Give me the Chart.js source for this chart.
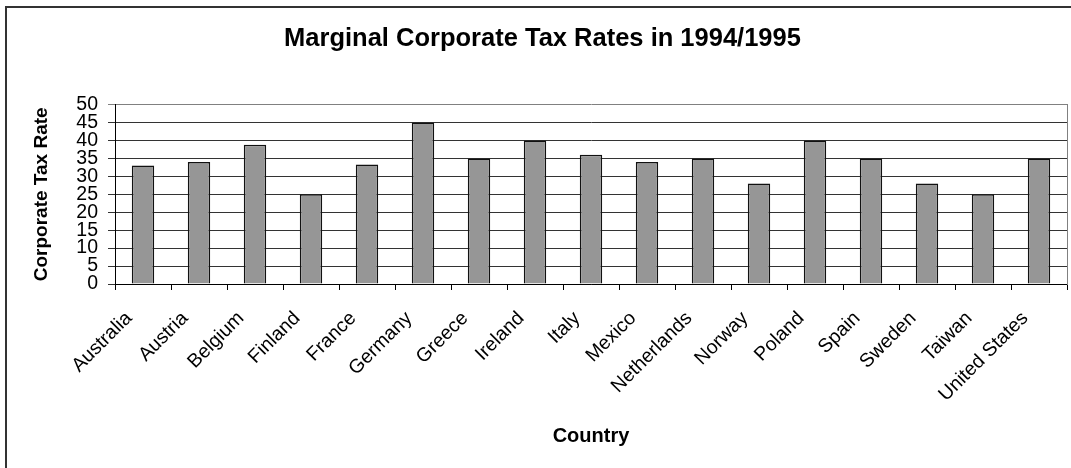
<!DOCTYPE html>
<html>
<head>
<meta charset="utf-8">
<title>Marginal Corporate Tax Rates in 1994/1995</title>
<script src="https://cdn.jsdelivr.net/npm/chart.js@4/dist/chart.umd.min.js"></script>
<style>
    html, body { margin: 0; padding: 0; background: #fff; overflow: hidden; }
    #chart { position: absolute; left: 0; top: 0; }
    #frame {
        position: absolute; left: 5px; top: 6px; width: 2000px; height: 2000px;
        border-left: 2px solid #333; border-top: 2px solid #333; pointer-events: none;
    }
</style>
</head>
<body>
<canvas id="chart" width="1085" height="468"></canvas>
<div id="frame"></div>
<script>
// Data
const countries = ['Australia', 'Austria', 'Belgium', 'Finland', 'France', 'Germany', 'Greece', 'Ireland',
    'Italy', 'Mexico', 'Netherlands', 'Norway', 'Poland', 'Spain', 'Sweden', 'Taiwan', 'United States'];
const taxRates = [33, 34, 38.8, 25, 33.3, 45, 35, 40, 36, 34, 35, 28, 40, 35, 28, 25, 35];
const yTicks = [0, 5, 10, 15, 20, 25, 30, 35, 40, 45, 50];

const FONT = '"Liberation Sans", Arial, sans-serif';
Chart.defaults.color = '#000';
Chart.defaults.font.family = FONT;

new Chart(document.getElementById('chart'), {
    type: 'bar',
    data: {
        labels: countries,
        datasets: [{
            label: 'Corporate Tax Rate',
            data: taxRates,
            backgroundColor: '#969696',
            borderColor: '#111',
            borderWidth: 1.5,
            categoryPercentage: 1,
            barPercentage: 0.4
        }]
    },
    options: {
        responsive: false,
        animation: false,
        layout: { padding: 0 },
        plugins: {
            legend: { display: false },
            tooltip: { enabled: false },
            title: {
                display: true,
                text: 'Marginal Corporate Tax Rates in 1994/1995',
                font: { size: 25.5, weight: 'bold', family: FONT },
                color: '#000',
                padding: { top: 24, bottom: 50 }
            }
        },
        scales: {
            x: {
                offset: true,
                grid: { offset: true, drawOnChartArea: false, drawTicks: true, tickLength: 6, color: '#000' },
                border: { color: '#000', width: 1 },
                ticks: {
                    autoSkip: false, minRotation: 45, maxRotation: 45,
                    padding: 17, labelOffset: -14,
                    font: { size: 19.5, family: FONT }
                },
                title: {
                    display: true, text: 'Country',
                    font: { size: 20, weight: 'bold', family: FONT },
                    padding: { top: 0, bottom: 20 }
                },
                afterFit(scale) { scale.height = 184; }
            },
            y: {
                min: 0,
                max: 50,
                afterBuildTicks(scale) { scale.ticks = yTicks.map(v => ({ value: v })); },
                grid: {
                    tickLength: 7,
                    color: ctx => (ctx.tick && ctx.tick.value === 50 ? '#808080' : '#333')
                },
                border: { color: '#000', width: 1 },
                ticks: { autoSkip: false, padding: 10, font: { size: 19.5, family: FONT } },
                title: {
                    display: true, text: 'Corporate Tax Rate',
                    font: { size: 19, weight: 'bold', family: FONT },
                    padding: { top: 30, bottom: 0 }
                },
                afterFit(scale) { scale.width = 115; }
            },
            // empty right axis: gives the plot its right edge and the margin past it
            yRight: {
                position: 'right',
                min: 0,
                max: 50,
                grid: { display: false },
                border: { display: true, color: '#808080', width: 1 },
                ticks: { display: false },
                afterFit(scale) { scale.width = 18; }
            }
        }
    }
});
</script>
</body>
</html>
